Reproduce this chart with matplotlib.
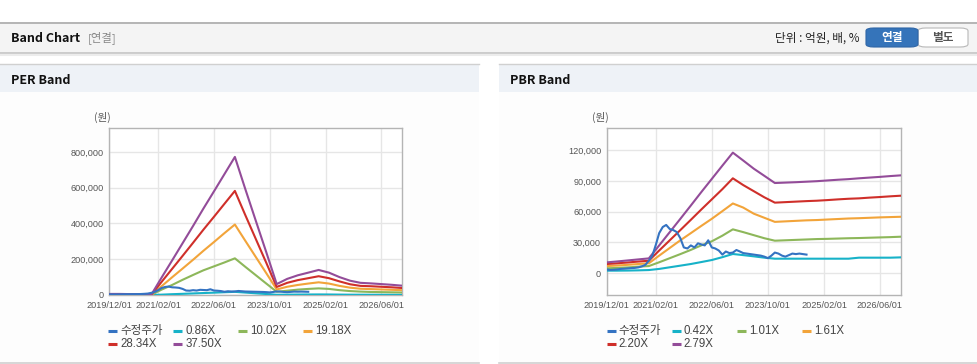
import matplotlib
matplotlib.use("Agg")
import matplotlib.pyplot as plt
import matplotlib.dates as mdates
from matplotlib.patches import Rectangle, FancyBboxPatch
from matplotlib.lines import Line2D
import pandas as pd

W, H = 978, 364

# ---- data (값은 그림에서 읽은 추정치) ----
price_dates = pd.date_range("2019-12-01", periods=58, freq="MS")
price = [3500, 3000, 3200, 3500, 4000, 4200, 4500, 4800, 5000, 5500, 6500, 8000,
         12000, 17000, 28000, 39000, 45000, 47000, 43000, 42000, 40000, 34000, 25000, 24000,
         27000, 25000, 29000, 28000, 27000, 32000, 25000, 24000, 22000, 18000, 21000, 19500,
         20000, 22500, 21000, 19500, 19000, 18500, 18000, 17500, 17000, 16000, 14500, 17000,
         20000, 19000, 17000, 16000, 17500, 19000, 18500, 19000, 18500, 18000]

band_dates = pd.date_range("2019-12-01", periods=29, freq="3MS")

per_labels = ["0.86X", "10.02X", "19.18X", "28.34X", "37.50X"]
per_cyan = [200, 200, 100, 100, 0, 2000, 4500, 6600, 8800, 11000, 13000, 15500, 17700,
            13600, 9500, 5500, 1400, 2000, 2500, 2900, 3200, 2900, 2300, 1800, 1600, 1500, 1400, 1300, 1200]
per_green = [2000, 2000, 1500, 1000, 300, 30000, 56000, 85000, 112000, 138000, 160000, 182000, 205000,
             158000, 111000, 64000, 18000, 24000, 30000, 34000, 37000, 34000, 27000, 22000, 19000,
             17000, 16000, 15000, 14000]
per_orange = [3000, 3000, 2500, 2000, 500, 49000, 99000, 148000, 197000, 247000, 296000, 346000, 394000,
              304000, 213000, 122000, 31000, 46000, 56000, 64000, 71000, 64000, 51000, 41000, 35000,
              33000, 31000, 29000, 27000]
per_red = [5000, 4500, 4000, 3000, 1000, 73000, 146000, 219000, 292000, 365000, 437000, 510000, 582000,
           448000, 314000, 180000, 45000, 68000, 83000, 94000, 105000, 94000, 76000, 60000, 51000,
           49000, 46000, 43000, 39000]
per_purple = [6000, 6000, 5000, 4000, 1000, 97000, 193000, 290000, 386000, 483000, 579000, 676000, 772000,
              594000, 416000, 239000, 61000, 90000, 110000, 125000, 140000, 125000, 100000, 80000, 68000,
              65000, 61000, 57000, 52000]

pbr_labels = ["0.42X", "1.01X", "1.61X", "2.20X", "2.79X"]
pbr_cyan = [2300, 2300, 2400, 2600, 2900, 4000, 5600, 7200, 8800, 10700, 12700, 15500, 18600,
            17500, 16300, 15000, 14000, 14000, 14000, 14000, 14000, 14000, 14000, 14000, 15000,
            15000, 15000, 15000, 15300]
pbr_green = [4600, 5000, 5500, 6200, 6800, 10500, 14500, 18500, 22600, 27000, 31000, 36500, 42700,
             40000, 37000, 34000, 31600, 32000, 32400, 32800, 33200, 33400, 33700, 34000, 34200,
             34500, 34800, 35100, 35500]
pbr_orange = [6800, 7300, 8000, 8800, 9500, 17000, 24500, 32000, 39000, 46000, 53000, 60500, 68000,
              64000, 58000, 54000, 50000, 50500, 51000, 51500, 51800, 52300, 52800, 53300, 53600,
              54000, 54400, 54700, 55000]
pbr_red = [8800, 9500, 10300, 11200, 12000, 22000, 32000, 42000, 52000, 62000, 72000, 82000, 92600,
           86000, 80000, 74000, 68800, 69300, 69800, 70300, 70700, 71300, 72000, 72600, 73000,
           73700, 74300, 75000, 75600]
pbr_purple = [10400, 11300, 12300, 13300, 14300, 27000, 40000, 53000, 66000, 79000, 92000, 105000, 117700,
              110000, 102000, 95000, 88000, 88400, 88800, 89300, 89800, 90500, 91200, 91800, 92600,
              93300, 94000, 94800, 95500]

tick_dates = ["2019-12-01", "2021-02-01", "2022-06-01", "2023-10-01", "2025-02-01", "2026-06-01"]

colors = ["#17b2c8", "#8db75a", "#f2a43a", "#cf2f2a", "#934c99"]
price_color = "#3473c2"

LAT = ["Liberation Sans", "Noto Sans CJK KR", "DejaVu Sans"]
KR = ["Noto Sans CJK KR", "DejaVu Sans"]


def fx(x):
    return x / W


def fy(y):
    return 1 - y / H


fig = plt.figure(figsize=(W / 100, H / 100), dpi=100)
fig.patch.set_facecolor("white")


def rect(x0, y0, x1, y1, fc, ec="none", lw=0, z=0):
    fig.add_artist(Rectangle((fx(x0), fy(y1)), fx(x1 - x0), (y1 - y0) / H,
                             transform=fig.transFigure, facecolor=fc, edgecolor=ec, lw=lw, zorder=z))


def hline(y, x0, x1, c, lw=1.0):
    fig.add_artist(Line2D([fx(x0), fx(x1)], [fy(y), fy(y)], transform=fig.transFigure,
                          color=c, lw=lw, zorder=1))


# top header bar
rect(0, 22, W, 53, "#f4f4f4")
hline(22.5, 0, W, "#aaaaaa", 1.2)
hline(53, 0, W, "#c4c4c4", 1.2)
hline(54.5, 0, W, "#ececec", 1.5)
fig.text(fx(11), fy(38), "Band Chart", fontsize=9.0, fontweight="bold", family=KR,
         va="center", ha="left", color="#111111")
fig.text(fx(88), fy(38), "[연결]", fontsize=8.2, family=KR, va="center", ha="left", color="#888888")
fig.text(fx(860), fy(38), "단위 : 억원, 배, %", fontsize=8.4, family=KR, va="center", ha="right",
         color="#222222")
fig.add_artist(FancyBboxPatch((fx(918), fy(47)), fx(50), 19 / H, boxstyle="round,pad=0,rounding_size=0.008",
                              transform=fig.transFigure, facecolor="white", edgecolor="#b8b8b8", lw=0.8))
fig.add_artist(FancyBboxPatch((fx(866), fy(47)), fx(52), 19 / H, boxstyle="round,pad=0,rounding_size=0.008",
                              transform=fig.transFigure, facecolor="#3574ba", edgecolor="#2e65a6", lw=0.8))
fig.text(fx(892), fy(37.5), "연결", fontsize=8.4, fontweight="bold", family=KR, va="center", ha="center",
         color="white")
fig.text(fx(943), fy(37.5), "별도", fontsize=8.4, fontweight="bold", family=KR, va="center", ha="center",
         color="#555555")

# panels
for px0, px1, title in [(0, 479, "PER Band"), (499, W, "PBR Band")]:
    rect(px0, 64, px1, 362, "#fdfdfd")
    rect(px0, 64, px1, 92, "#eef2f7")
    hline(64, px0, px1, "#d0d0d0", 1.0)
    hline(362.5, px0, px1, "#d0d0d0", 1.2)
    fig.text(fx(px0 + 11), fy(80), title, fontsize=9.0, fontweight="bold", family=KR,
             va="center", ha="left", color="#111111")


def band_axes(x0, x1, ylim, yticks, bands, labels, ulabel_x, legend_x):
    ax = fig.add_axes([fx(x0), fy(295), fx(x1 - x0), (295 - 128.3) / H])
    ax.set_facecolor("white")
    for s in ax.spines.values():
        s.set_color("#b4b4b4")
        s.set_linewidth(1.0)
    ax.grid(True, color="#e6e6e6", lw=1.0)
    ax.set_axisbelow(True)

    for vals, c in zip(bands, colors):
        ax.plot(band_dates, vals, color=c, lw=1.5, zorder=3)
    ax.plot(price_dates, price, color=price_color, lw=1.5, zorder=4)

    ax.set_xlim(pd.Timestamp("2019-12-01"), pd.Timestamp("2026-12-01"))
    ax.set_ylim(*ylim)
    ax.set_xticks(pd.to_datetime(tick_dates))
    ax.xaxis.set_major_formatter(mdates.DateFormatter("%Y/%m/%d"))
    ax.set_yticks(yticks)
    ax.set_yticklabels([f"{v:,}" for v in yticks])
    ax.tick_params(length=0, pad=4, labelsize=6.6, colors="#555555")
    for t in ax.get_xticklabels() + ax.get_yticklabels():
        t.set_family(LAT)
        t.set_color("#555555")
    fig.text(fx(ulabel_x), fy(117), "(원)", fontsize=7.6, family=KR, ha="left", va="center",
             color="#555555")

    # legend (4 columns, 2 rows)
    names = ["수정주가"] + labels
    cols = [price_color] + colors
    for i, (n, c) in enumerate(zip(names, cols)):
        r, k = divmod(i, 4)
        lx = legend_x + 65 * k
        ly = 330.7 + 13.3 * r
        fig.add_artist(Line2D([fx(lx), fx(lx + 9)], [fy(ly), fy(ly)], transform=fig.transFigure,
                              color=c, lw=2.2, solid_capstyle="butt"))
        fig.text(fx(lx + 12), fy(ly), n, fontsize=8.3, family=LAT, ha="left", va="center",
                 color="#444444")
    return ax


band_axes(109.3, 402.3, (0, 932000), [0, 200000, 400000, 600000, 800000],
          [per_cyan, per_green, per_orange, per_red, per_purple], per_labels, 94, 108.3)
band_axes(606.7, 901, (-21500, 141500), [0, 30000, 60000, 90000, 120000],
          [pbr_cyan, pbr_green, pbr_orange, pbr_red, pbr_purple], pbr_labels, 592, 606.7)

fig.savefig("out.png", dpi=100, facecolor=fig.get_facecolor())
